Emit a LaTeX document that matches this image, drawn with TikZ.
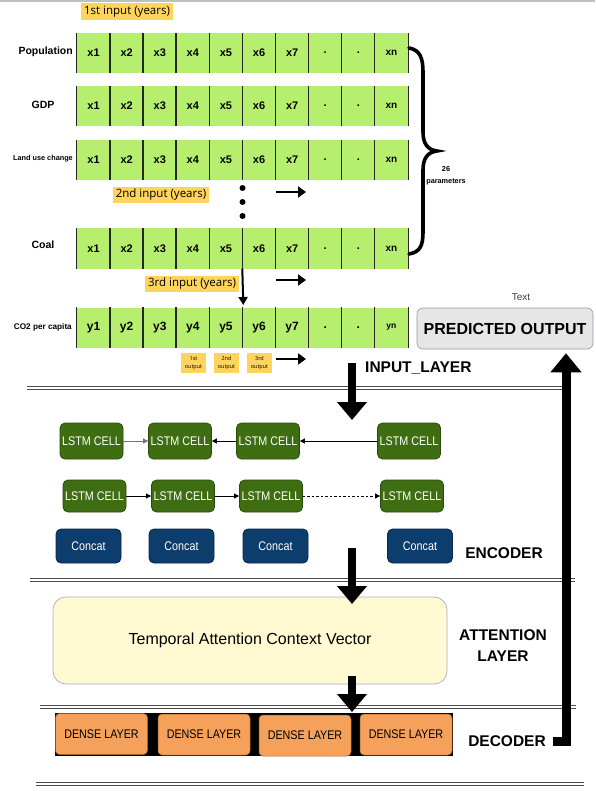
\documentclass[tikz,border=0pt]{standalone}
\usepackage{fontspec}
\setmainfont{Liberation Sans}
\newfontfamily\osans{Open Sans}
\newfontfamily\cfont[FakeStretch=0.86]{Liberation Sans}
\usetikzlibrary{arrows.meta,calc}
\definecolor{cellgreen}{HTML}{B6EF6D}
\definecolor{tagyellow}{HTML}{FFD45C}
\definecolor{lstmgreen}{HTML}{3F6E12}
\definecolor{lstmdark}{HTML}{2A4A0C}
\definecolor{concatblue}{HTML}{0C3D6C}
\definecolor{concatdark}{HTML}{08284A}
\definecolor{denseorange}{HTML}{F6A15B}
\definecolor{densedark}{HTML}{A0602A}
\definecolor{attyellow}{HTML}{FFFAD2}
\definecolor{attborder}{HTML}{B4A8C4}
\definecolor{predgray}{HTML}{E6E6E6}
\definecolor{predborder}{HTML}{A090A8}
\newcommand{\fsz}[2]{\fontsize{#1}{#2}\selectfont}
\newcommand{\DataRow}[5]{%
  \foreach \i in {1,...,7}{\node[cellbox,font=#4] (#1\i) at ({77+33.1*(\i-0.5)},#2) {#3\i};}
  \node[cellbox,font=#4] (#18) at ({77+33.1*7.5},#2) {.};
  \node[cellbox,font=#4] (#19) at ({77+33.1*8.5},#2) {.};
  \node[cellbox,font=#5] (#110) at ({77+33.1*9.5},#2) {#3n};
  \foreach \i in {1,...,10}{\draw[cellline] (#1\i.north west) -- (#1\i.south west);}
  \draw[cellline] (#110.north east) -- (#110.south east);
}
\newcommand{\Divider}[3]{%
  \draw[divline] (#1,#3) -- (#2,#3);
  \draw[divline] (#1,#3+3.5) -- (#2,#3+3.5);
}
\tikzset{
  cellbox/.style={minimum width=33.1pt, minimum height=40pt, inner sep=0pt, fill=cellgreen},
  cellline/.style={line width=1.3pt, black!85},
  rowlabel/.style={inner sep=0pt, font=\bfseries\fsz{10.5}{12}},
  yellowtag/.style={fill=tagyellow, inner xsep=3pt, inner ysep=2.5pt, font=\osans\fsz{11.5}{13}},
  outtag/.style={fill=tagyellow, minimum width=25pt, minimum height=20pt, inner sep=0pt, align=center, font=\osans\fsz{5.5}{7.5}},
  fatarrow/.style={line width=2.6pt, -{Triangle[length=8pt,width=11pt]}},
  blockarrow/.style={line width=8pt, -{Triangle[length=18pt,width=29pt]}},
  thinarrow/.style={line width=0.8pt, -{Triangle[length=5pt,width=5pt]}},
  dotnode/.style={circle, fill=black, inner sep=0pt, minimum size=6pt},
  lstm/.style={rounded corners=5pt, fill=lstmgreen, draw=lstmdark, line width=0.8pt, minimum width=63pt, inner sep=0pt, text=white, font=\cfont\fsz{12.5}{14}},
  concat/.style={rounded corners=5pt, fill=concatblue, draw=concatdark, line width=0.8pt, minimum width=65pt, minimum height=34pt, inner sep=0pt, text=white, font=\cfont\fsz{12.5}{14}},
  dense/.style={rounded corners=4pt, fill=denseorange, draw=densedark, line width=0.5pt, minimum width=92pt, minimum height=41pt, inner sep=0pt, font=\cfont\fsz{12.5}{14}},
  layerlabel/.style={inner sep=0pt, font=\bfseries\fsz{15.5}{21}, align=center},
  divline/.style={line width=0.9pt, black!70},
}
\begin{document}
\begin{tikzpicture}[x=1pt,y=-1pt]
\useasboundingbox (0,0) rectangle (595,791);
\fill[white] (0,0) rectangle (595,791);
\fill[black!25] (0,0) rectangle (595,2);

% ---------- input data rows ----------
\DataRow{pop}{53}{x}{\bfseries\fsz{11}{13}}{\bfseries\fsz{10}{12}}
\DataRow{gdp}{106}{x}{\bfseries\fsz{11}{13}}{\bfseries\fsz{10}{12}}
\DataRow{land}{160}{x}{\bfseries\fsz{11}{13}}{\bfseries\fsz{10}{12}}
\DataRow{coal}{248.5}{x}{\bfseries\fsz{11}{13}}{\bfseries\fsz{10}{12}}
\DataRow{co}{327.5}{y}{\bfseries\fsz{12}{14}}{\bfseries\fsz{8.5}{10}}

\node[rowlabel, anchor=east] (lpop) at (73,52) {Population};
\node[rowlabel] (lgdp) at (43,105) {GDP};
\node[rowlabel, anchor=east, font=\bfseries\fsz{7.3}{9}] (lland) at (73,159) {Land use change};
\node[rowlabel] (lcoal) at (43,245) {Coal};
\node[rowlabel, anchor=east, font=\bfseries\fsz{8.2}{10}] (lco) at (72,327) {CO2 per capita};

\node[yellowtag] (in1) at (127,11.5) {1st input (years)};
\node[yellowtag] (in2) at (161,195) {2nd input (years)};
\node[yellowtag] (in3) at (192,284) {3rd input (years)};
\node[outtag] (out1) at (193.5,363) {1st\\output};
\node[outtag] (out2) at (226.5,363) {2nd\\output};
\node[outtag] (out3) at (259.5,363) {3rd\\output};

\node[dotnode] (dot1) at (242.5,188) {};
\node[dotnode] (dot2) at (242.5,202) {};
\node[dotnode] (dot3) at (242.5,216) {};

\coordinate (ra1s) at (276,192); \coordinate (ra1e) at (306,192);
\coordinate (ra2s) at (276,280); \coordinate (ra2e) at (306,280);
\coordinate (ra3s) at (276,359); \coordinate (ra3e) at (306,359);
\draw[fatarrow] (ra1s) -- (ra1e);
\draw[fatarrow] (ra2s) -- (ra2e);
\draw[fatarrow] (ra3s) -- (ra3e);

\coordinate (downend) at (243.3,305);
\draw[line width=2pt, -{Triangle[length=8pt,width=9pt]}] (coal6.south west) -- (downend);

% brace
\draw[line width=3.6pt, line cap=round] (409,48) .. controls (420,50) and (423,58) .. (423,72) -- (423,132) .. controls (423,144) and (428,150) .. (437,151) .. controls (428,152) and (423,158) .. (423,170) -- (423,232) .. controls (423,246) and (420,252) .. (409,254);
\node[inner sep=0pt, align=center, font=\bfseries\fsz{7.3}{12.5}] (params) at (446,175.5) {26\\parameters};

% predicted output
\node[rounded corners=6pt, fill=predgray, draw=predborder, line width=0.6pt, minimum width=176pt, minimum height=41pt, inner sep=0pt, font=\bfseries\fsz{16}{18}] (pred) at (505,328.5) {PREDICTED OUTPUT};
\node[inner sep=0pt, font=\fsz{10}{12}, text=black!75] (predtext) at (521,297) {Text};
\node[layerlabel, anchor=west] (inlayer) at (365,368) {INPUT\_LAYER};

% dividers
\Divider{27}{563}{386}
\Divider{30}{575}{578}
\Divider{40}{576}{705}
\Divider{36}{584}{782}

% encoder
\node[lstm, minimum height=36pt] (l11) at (91.5,441) {LSTM CELL};
\node[lstm, minimum height=36pt] (l12) at (180,441) {LSTM CELL};
\node[lstm, minimum height=36pt] (l13) at (268,441) {LSTM CELL};
\node[lstm, minimum height=36pt] (l14) at (409,441) {LSTM CELL};
\node[lstm, minimum height=32pt] (l21) at (94.5,496) {LSTM CELL};
\node[lstm, minimum height=32pt] (l22) at (183,496) {LSTM CELL};
\node[lstm, minimum height=32pt] (l23) at (271,496) {LSTM CELL};
\node[lstm, minimum height=32pt] (l24) at (412,496) {LSTM CELL};
\draw[thinarrow, black!55] (l11.east) -- (l12.west);
\draw[thinarrow] (l13.west) -- (l12.east);
\draw[thinarrow] (l14.west) -- (l13.east);
\draw[thinarrow] (l21.east) -- (l22.west);
\draw[thinarrow] (l22.east) -- (l23.west);
\draw[thinarrow, dash pattern=on 2.5pt off 2pt] (l23.east) -- (l24.west);

\node[concat] (c1) at (88.5,546) {Concat};
\node[concat] (c2) at (181.5,546) {Concat};
\node[concat] (c3) at (275.5,546) {Concat};
\node[concat] (c4) at (420,546) {Concat};
\node[layerlabel] (enc) at (504,553) {ENCODER};

% attention
\node[rounded corners=13pt, fill=attyellow, draw=attborder, line width=0.7pt, minimum width=394pt, minimum height=87pt, inner sep=0pt, font=\fsz{16}{18}] (att) at (250,640.5) {Temporal Attention Context Vector};
\node[layerlabel] (attlabel) at (503,645.5) {ATTENTION\\LAYER};

% decoder
\fill[black] (55,713) rectangle (453,756);
\node[dense] (d1) at (101.5,734) {DENSE LAYER};
\node[dense] (d2) at (204,734.5) {DENSE LAYER};
\node[dense] (d3) at (305,735.5) {DENSE LAYER};
\node[dense] (d4) at (406,734.5) {DENSE LAYER};
\node[layerlabel] (dec) at (507,741) {DECODER};

% block arrows
\coordinate (b1s) at (352,363); \coordinate (b1e) at (352,420);
\coordinate (b2s) at (352,548); \coordinate (b2e) at (352,604);
\coordinate (b3s) at (352,676); \coordinate (b3e) at (352,712);
\draw[blockarrow] (b1s) -- (b1e);
\draw[blockarrow] (b2s) -- (b2e);
\draw[blockarrow] (b3s) -- (b3e);

\coordinate (rets) at (553,741);
\coordinate (retc) at (566,741);
\coordinate (rett) at ($(pred.south -| retc)+(0,4)$);
\draw[line width=9pt, line join=miter, -{Triangle[length=19pt,width=30pt]}] (rets) -- (retc) -- (rett);
\end{tikzpicture}
\end{document}
